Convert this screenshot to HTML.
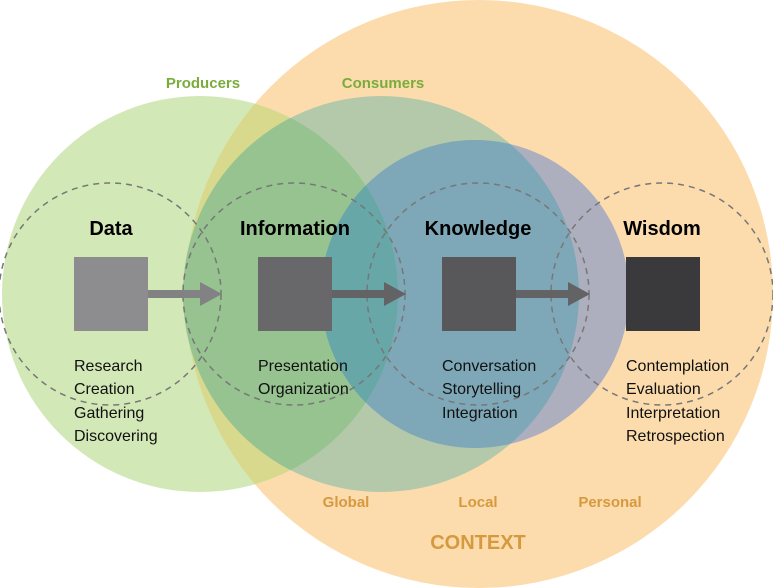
<!DOCTYPE html>
<html><head><meta charset="utf-8"><style>
body{margin:0;background:#fff}
svg{display:block}
text{font-family:"Liberation Sans",sans-serif}
</style></head><body>
<svg width="773" height="588" viewBox="0 0 773 588" xmlns="http://www.w3.org/2000/svg">
<defs>
<clipPath id="O"><circle cx="479" cy="294" r="294"/></clipPath>
<clipPath id="P"><circle cx="200" cy="294" r="198"/></clipPath>
<clipPath id="C"><circle cx="381" cy="294" r="198"/></clipPath>
</defs>
<circle cx="479" cy="294" r="294" fill="#fcdcad"/>
<circle cx="200" cy="294" r="198" fill="#d3e8b7"/>
<g clip-path="url(#O)"><circle cx="200" cy="294" r="198" fill="#d8d98d"/></g>
<circle cx="381" cy="294" r="198" fill="#b3c9aa"/>
<g clip-path="url(#P)"><circle cx="381" cy="294" r="198" fill="#96c390"/></g>
<circle cx="475" cy="294" r="154" fill="#adafbe"/>
<g clip-path="url(#C)"><circle cx="475" cy="294" r="154" fill="#7ea8b7"/>
<g clip-path="url(#P)"><circle cx="475" cy="294" r="154" fill="#67a7a7"/></g></g>
<g fill="none" stroke="#777" stroke-width="1.5" stroke-dasharray="6,5">
<circle cx="110" cy="294" r="111"/><circle cx="294" cy="294" r="111"/><circle cx="478" cy="294" r="111"/><circle cx="662" cy="294" r="111"/>
</g>
<rect x="74" y="257" width="74" height="74" fill="#8d8d8f"/>
<rect x="258" y="257" width="74" height="74" fill="#68686b"/>
<rect x="442" y="257" width="74" height="74" fill="#58585a"/>
<rect x="626" y="257" width="74" height="74" fill="#3a3a3c"/>
<g fill="#828284">
<rect x="148" y="290" width="54" height="8"/><polygon points="200,282 222,294 200,306"/>
</g>
<g fill="#636366">
<rect x="332" y="290" width="54" height="8"/><polygon points="384,282 406,294 384,306"/>
<rect x="516" y="290" width="54" height="8"/><polygon points="568,282 590,294 568,306"/>
</g>
<g font-weight="bold" font-size="20" text-anchor="middle" fill="#000">
<text x="111" y="235">Data</text><text x="295" y="235">Information</text><text x="478" y="235">Knowledge</text><text x="662" y="235">Wisdom</text>
</g>
<g font-size="16" fill="#111">
<text x="74" y="371">Research</text><text x="74" y="394">Creation</text><text x="74" y="418">Gathering</text><text x="74" y="441">Discovering</text>
<text x="258" y="371">Presentation</text><text x="258" y="394">Organization</text>
<text x="442" y="371">Conversation</text><text x="442" y="394">Storytelling</text><text x="442" y="418">Integration</text>
<text x="626" y="371">Contemplation</text><text x="626" y="394">Evaluation</text><text x="626" y="418">Interpretation</text><text x="626" y="441">Retrospection</text>
</g>
<g font-size="15" font-weight="bold" fill="#7aac3c" text-anchor="middle">
<text x="203" y="88">Producers</text><text x="383" y="88">Consumers</text>
</g>
<g font-size="15" font-weight="bold" fill="#d6993e" text-anchor="middle">
<text x="346" y="507">Global</text><text x="478" y="507">Local</text><text x="610" y="507">Personal</text>
<text x="478" y="549" font-size="20">CONTEXT</text>
</g>
</svg>
</body></html>
